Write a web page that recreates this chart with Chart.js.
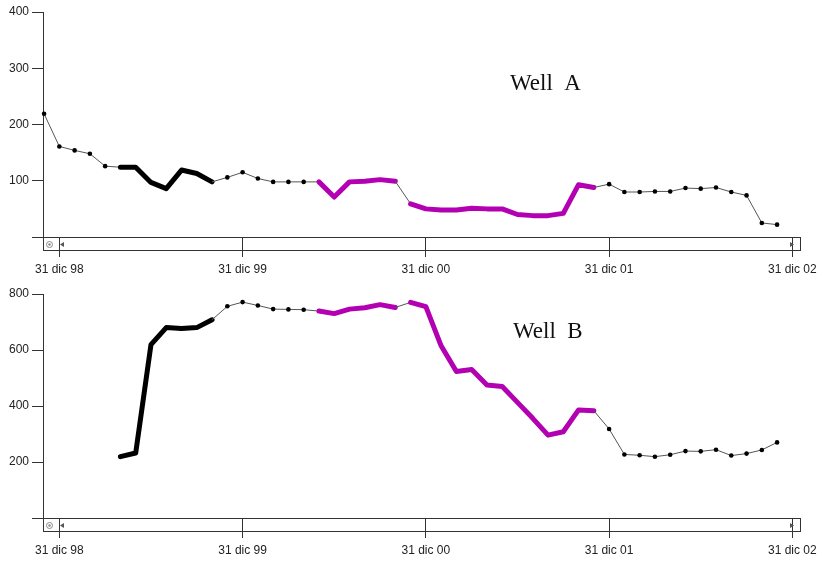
<!DOCTYPE html>
<html>
<head>
<meta charset="utf-8">
<script src="https://cdn.jsdelivr.net/npm/chart.js@4"></script>
<style>
  html, body { margin: 0; padding: 0; background: #fff; }
  #wrap { position: relative; width: 821px; height: 561px; }
  canvas { position: absolute; left: 0; }
  #chartA { top: 0; }
  #chartB { top: 281px; }
</style>
</head>
<body>
<div id="wrap">
  <canvas id="chartA" width="821" height="280"></canvas>
  <canvas id="chartB" width="821" height="280"></canvas>
</div>
<script>
"use strict"

// one reading a month, end of month
const months = [
    "nov 98", "dic 98",
    "ene 99", "feb 99", "mar 99", "abr 99", "may 99", "jun 99", "jul 99", "ago 99", "sep 99", "oct 99", "nov 99", "dic 99",
    "ene 00", "feb 00", "mar 00", "abr 00", "may 00", "jun 00", "jul 00", "ago 00", "sep 00", "oct 00", "nov 00", "dic 00",
    "ene 01", "feb 01", "mar 01", "abr 01", "may 01", "jun 01", "jul 01", "ago 01", "sep 01", "oct 01", "nov 01", "dic 01",
    "ene 02", "feb 02", "mar 02", "abr 02", "may 02", "jun 02", "jul 02", "ago 02", "sep 02", "oct 02", "nov 02", "dic 02"
];

const wellA = [
    219, 161,
    154, 148, 126, 124, 124, 97, 86, 119, 113, 98, 106, 115,
    104, 98, 98, 98, 98, 71, 98, 99, 102, 99, 59, 50,
    48, 48, 51, 50, 50, 40, 38, 38, 42, 93, 88, 94,
    80, 80, 81, 81, 87, 86, 88, 80, 74, 25, 22
];

const wellB = [
    null, null,
    null, null, null, 219, 232, 619, 680, 677, 680, 708, 756, 771,
    759, 746, 745, 744, 739, 730, 746, 751, 762, 752, 770, 755,
    615, 523, 530, 475, 470, 413, 356, 296, 308, 386, 383, 318,
    227, 224, 219, 226, 239, 238, 244, 223, 230, 243, 270
];

// periods drawn with a heavy line
const blackPeriods = [["abr 99", "oct 99"]];
const magentaPeriods = [["may 00", "oct 00"], ["nov 00", "nov 01"]];

const tickMonths = ["dic 98", "dic 99", "dic 00", "dic 01", "dic 02"];
const tickLabels = ["31 dic 98", "31 dic 99", "31 dic 00", "31 dic 01", "31 dic 02"];

const ink = "#333";
const magenta = "#b200b2";
const axisFont = { family: "'Liberation Sans', Arial, sans-serif", size: 12 };

function toRanges(periods){
    return periods.map(p => [months.indexOf(p[0]), months.indexOf(p[1])]);
}

const blackRanges = toRanges(blackPeriods);
const magentaRanges = toRanges(magentaPeriods);

function inRange(ranges, i0, i1){
    return ranges.some(r => i0 >= r[0] && i1 <= r[1]);
}

function segColor(ctx){
    const a = ctx.p0DataIndex, b = ctx.p1DataIndex;
    if(inRange(blackRanges, a, b)) return "#000";
    if(inRange(magentaRanges, a, b)) return magenta;
    return "#555";
}

function segWidth(ctx){
    const a = ctx.p0DataIndex, b = ctx.p1DataIndex;
    if(inRange(blackRanges, a, b) || inRange(magentaRanges, a, b)) return 5;
    return 1;
}

function dotRadius(ctx){
    const i = ctx.dataIndex;
    if(inRange(blackRanges, i, i) || inRange(magentaRanges, i, i)) return 0;
    return 2.3;
}

const framePlugin = {
    id: "frame",
    afterDraw(chart, args, opts){
        const { ctx, chartArea: a } = chart;
        ctx.save();

        // scroll bar under the time axis
        ctx.strokeStyle = ink;
        ctx.lineWidth = 1;
        ctx.strokeRect(Math.round(a.left) + 0.5, Math.round(a.bottom) + 0.5, Math.round(a.right - a.left), 13);

        ctx.strokeStyle = "#888";
        ctx.beginPath();
        ctx.arc(a.left + 6.5, a.bottom + 7.5, 3, 0, 2 * Math.PI);
        ctx.stroke();
        ctx.fillStyle = "#888";
        ctx.beginPath();
        ctx.arc(a.left + 6.5, a.bottom + 7.5, 1.2, 0, 2 * Math.PI);
        ctx.fill();

        ctx.fillStyle = "#555";
        ctx.beginPath();
        ctx.moveTo(a.left + 17, a.bottom + 7.5);
        ctx.lineTo(a.left + 21, a.bottom + 5);
        ctx.lineTo(a.left + 21, a.bottom + 10);
        ctx.closePath();
        ctx.fill();

        ctx.beginPath();
        ctx.moveTo(a.right - 6, a.bottom + 7.5);
        ctx.lineTo(a.right - 10, a.bottom + 5);
        ctx.lineTo(a.right - 10, a.bottom + 10);
        ctx.closePath();
        ctx.fill();

        // well name
        ctx.fillStyle = "#111";
        ctx.font = "23px 'Liberation Serif', 'Times New Roman', serif";
        ctx.textBaseline = "alphabetic";
        ctx.fillText(opts.text, opts.x, opts.y);

        ctx.restore();
    }
};

function makeChart(canvasId, values, yMax, yStep, topPad, name, nameX, nameY){
    const data = values.map((v, i) => ({ x: i, y: v }));

    return new Chart(document.getElementById(canvasId), {
        type: "line",
        data: {
            datasets: [{
                data: data,
                borderColor: "#555",
                borderWidth: 1,
                borderJoinStyle: "round",
                borderCapStyle: "round",
                tension: 0,
                clip: false,
                pointRadius: dotRadius,
                pointHoverRadius: 0,
                pointBackgroundColor: "#000",
                pointBorderWidth: 0,
                segment: {
                    borderColor: segColor,
                    borderWidth: segWidth
                }
            }]
        },
        options: {
            responsive: false,
            animation: false,
            events: [],
            layout: { padding: { left: 0, right: 21, top: topPad, bottom: 0 } },
            plugins: {
                legend: { display: false },
                tooltip: { enabled: false },
                frame: { text: name, x: nameX, y: nameY }
            },
            scales: {
                x: {
                    type: "linear",
                    min: -0.07,
                    max: 49.5,
                    afterBuildTicks: s => {
                        s.ticks = tickMonths.map(m => ({ value: months.indexOf(m) }));
                    },
                    ticks: {
                        autoSkip: false,
                        maxRotation: 0,
                        padding: 5,
                        color: "#222",
                        font: axisFont,
                        callback: (v, i) => tickLabels[i]
                    },
                    grid: { drawOnChartArea: false, tickLength: 20, color: ink },
                    border: { color: ink },
                    afterFit: s => { s.height = 43; s.paddingLeft = 0; s.paddingRight = 0; }
                },
                y: {
                    min: 0,
                    max: yMax,
                    ticks: {
                        stepSize: yStep,
                        padding: 3,
                        color: "#222",
                        font: axisFont,
                        callback: v => v === 0 ? "" : v
                    },
                    grid: { drawOnChartArea: false, tickLength: 11, color: ink },
                    border: { color: ink },
                    afterFit: s => { s.width = 43; s.paddingTop = 0; s.paddingBottom = 0; }
                }
            }
        },
        plugins: [framePlugin]
    });
}

makeChart("chartA", wellA, 400, 100, 12, "Well  A", 510, 90);
makeChart("chartB", wellB, 800, 200, 13, "Well  B", 513, 57);
</script>
</body>
</html>
